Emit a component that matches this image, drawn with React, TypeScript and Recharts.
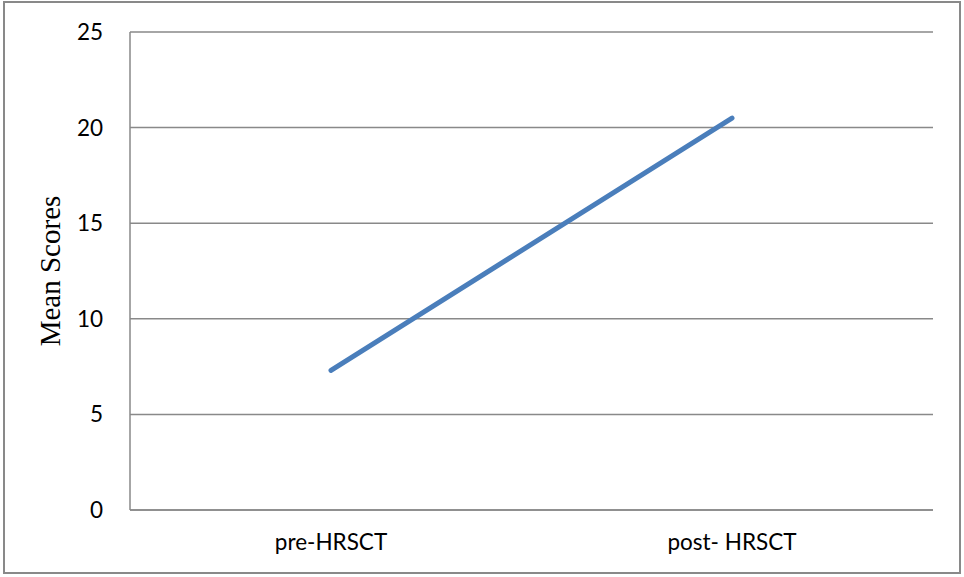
import { LineChart, Line, XAxis, YAxis, CartesianGrid } from "recharts";

const phases = ["pre-HRSCT", "post- HRSCT"];
const meanScores = [7.3, 20.5];
const yTicks = [0, 5, 10, 15, 20, 25];

const data = phases.map((phase, i) => ({ phase, score: meanScores[i] }));

const gray = "#898989";
const tickFont = { fontFamily: "Lato, 'Open Sans', sans-serif", fontSize: 22.5, fill: "#000" };

export default function App() {
  return (
    <div style={{ position: "absolute", left: 0, top: 0, width: 964, height: 577, background: "#fff" }}>
      {/* outer frame */}
      <div
        style={{
          position: "absolute",
          left: 3,
          top: 1,
          width: 958,
          height: 573,
          border: `2px solid ${gray}`,
          boxSizing: "border-box",
          pointerEvents: "none",
        }}
      />
      <LineChart
        width={964}
        height={577}
        data={data}
        margin={{ top: 32, right: 31, bottom: 0, left: 0 }}
      >
        <CartesianGrid vertical={false} stroke={gray} strokeWidth={1.5} />
        <XAxis
          dataKey="phase"
          height={67}
          padding={{ left: 201, right: 201 }}
          axisLine={{ stroke: gray, strokeWidth: 1.5 }}
          tickLine={false}
          tickSize={0}
          tickMargin={24}
          tick={tickFont}
        />
        <YAxis
          width={130}
          domain={[0, 25]}
          ticks={yTicks}
          axisLine={{ stroke: gray, strokeWidth: 1.5 }}
          tickLine={false}
          tickSize={0}
          tickMargin={27}
          tick={tickFont}
          label={{
            value: "Mean Scores",
            angle: -90,
            position: "insideLeft",
            offset: 50,
            style: { fontFamily: "'Liberation Serif', 'Times New Roman', serif", fontSize: 29, fill: "#000", textAnchor: "middle" },
          }}
        />
        <Line
          type="linear"
          dataKey="score"
          stroke="#4a7ebb"
          strokeWidth={5}
          strokeLinecap="round"
          dot={false}
          activeDot={false}
          isAnimationActive={false}
        />
      </LineChart>
    </div>
  );
}
